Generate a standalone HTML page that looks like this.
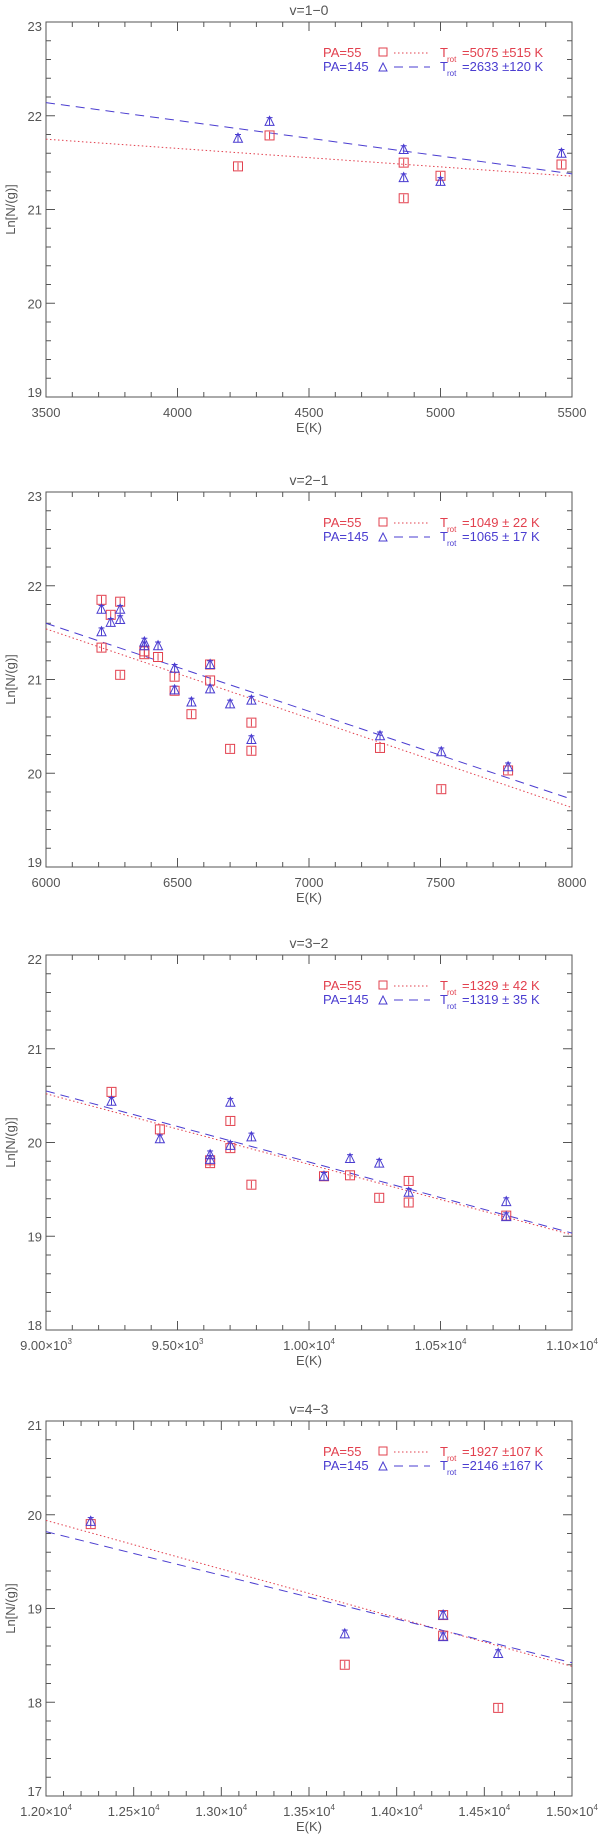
<!DOCTYPE html>
<html><head><meta charset="utf-8"><style>
html,body{margin:0;padding:0;background:#fff;}
svg{display:block;font-family:"Liberation Sans",sans-serif;}
</style></head><body>
<svg id="fig" width="600" height="1836" viewBox="0 0 600 1836" xmlns="http://www.w3.org/2000/svg"></svg>
<script>
// Panel 1: v=1-0
const p1RedX=[4230,4350,4860,4860,5000,5460];
const p1RedY=[21.46,21.79,21.50,21.12,21.36,21.48];
const p1BlueX=[4230,4350,4860,4860,5000,5460];
const p1BlueY=[21.76,21.94,21.64,21.34,21.30,21.60];
const p1Trot=[5075,2633];
const p1Start=[21.75,22.14];
const p1Legend=["=5075 ±515 K","=2633 ±120 K"];
const p1XTicks=["3500","4000","4500","5000","5500"];
// Panel 2: v=2-1
const p2RedX=[6211,6211,6246,6282,6282,6374,6374,6426,6489,6489,6553,6624,6624,6700,6781,6781,7270,7503,7757];
const p2RedY=[21.85,21.34,21.69,21.83,21.05,21.30,21.27,21.24,21.03,20.88,20.63,21.16,20.99,20.26,20.54,20.24,20.27,19.83,20.03];
const p2BlueX=[6211,6211,6246,6282,6282,6374,6374,6426,6489,6489,6553,6624,6624,6700,6781,6781,7270,7503,7757];
const p2BlueY=[21.75,21.51,21.61,21.75,21.64,21.40,21.36,21.36,21.12,20.89,20.76,21.16,20.90,20.74,20.78,20.36,20.40,20.23,20.07];
const p2Trot=[1049,1065];
const p2Start=[21.54,21.60];
const p2Legend=["=1049 ± 22  K","=1065 ± 17  K"];
const p2XTicks=["6000","6500","7000","7500","8000"];
// Panel 3: v=3-2
const p3RedX=[9249,9433,9624,9624,9701,9701,9781,10057,10156,10267,10379,10379,10750];
const p3RedY=[20.54,20.14,19.81,19.78,20.23,19.94,19.55,19.64,19.65,19.41,19.59,19.36,19.22];
const p3BlueX=[9249,9433,9624,9624,9701,9701,9781,10057,10156,10267,10379,10750,10750];
const p3BlueY=[20.44,20.04,19.87,19.82,20.43,19.97,20.06,19.64,19.83,19.78,19.47,19.37,19.21];
const p3Trot=[1329,1319];
const p3Start=[20.52,20.55];
const p3Legend=["=1329 ± 42  K","=1319 ± 35  K"];
const p3XTicks=["9.00×10|3","9.50×10|3","1.00×10|4","1.05×10|4","1.10×10|4"];
// Panel 4: v=4-3
const p4RedX=[12255,13704,14265,14265,14579];
const p4RedY=[19.90,18.40,18.93,18.71,17.94];
const p4BlueX=[12255,13704,14265,14265,14579];
const p4BlueY=[19.93,18.73,18.93,18.70,18.52];
const p4Trot=[1927,2146];
const p4Start=[19.94,19.82];
const p4Legend=["=1927 ±107 K","=2146 ±167 K"];
const p4XTicks=["1.20×10|4","1.25×10|4","1.30×10|4","1.35×10|4","1.40×10|4","1.45×10|4","1.50×10|4"];

const NS="http://www.w3.org/2000/svg";
const svg=document.getElementById('fig');
const RED="#e2404e", BLUE="#4a3cd0", AX="#555";
function mk(tag,attrs,parent){const e=document.createElementNS(NS,tag);for(const k in attrs)e.setAttribute(k,attrs[k]);(parent||svg).appendChild(e);return e;}

const panels=[
 {title:"v=1−0",top:22,x0:3500,x1:5500,y0:19,y1:23,rx:p1RedX,ry:p1RedY,bx:p1BlueX,by:p1BlueY,T:p1Trot,S:p1Start,L:p1Legend,XT:p1XTicks,xmaj:500,xmin:100},
 {title:"v=2−1",top:492,x0:6000,x1:8000,y0:19,y1:23,rx:p2RedX,ry:p2RedY,bx:p2BlueX,by:p2BlueY,T:p2Trot,S:p2Start,L:p2Legend,XT:p2XTicks,xmaj:500,xmin:100},
 {title:"v=3−2",top:955,x0:9000,x1:11000,y0:18,y1:22,rx:p3RedX,ry:p3RedY,bx:p3BlueX,by:p3BlueY,T:p3Trot,S:p3Start,L:p3Legend,XT:p3XTicks,xmaj:500,xmin:100},
 {title:"v=4−3",top:1421,x0:12000,x1:15000,y0:17,y1:21,rx:p4RedX,ry:p4RedY,bx:p4BlueX,by:p4BlueY,T:p4Trot,S:p4Start,L:p4Legend,XT:p4XTicks,xmaj:500,xmin:100}
];
const LEFT=46, RIGHT=572, H=375;

panels.forEach((p,pi)=>{
 const g=mk('g',{});
 
 
 const top=p.top, bot=top+H;
 const X=v=>LEFT+(v-p.x0)/(p.x1-p.x0)*(RIGHT-LEFT);
 const Y=v=>bot-(v-p.y0)/(p.y1-p.y0)*H;
 const t=mk('text',{x:(LEFT+RIGHT)/2,y:top-7,'text-anchor':'middle','font-size':14,fill:AX},g);
 t.textContent=p.title;
 
 
 const fr=mk('rect',{x:LEFT,y:top,width:RIGHT-LEFT,height:H,fill:'none',stroke:AX,'stroke-width':1},g);
 
 
 for(let v=p.x0;v<=p.x1+1e-6;v+=p.xmin){
  const maj=Math.abs((v-p.x0)%p.xmaj)<1e-6; const len=maj?9:5; const x=X(v);
  mk('line',{x1:x,y1:bot,x2:x,y2:bot-len,stroke:AX},g);
  mk('line',{x1:x,y1:top,x2:x,y2:top+len,stroke:AX},g);
 }
 p.XT.forEach((lab,i)=>{
  const v=p.x0+i*p.xmaj; const parts=lab.split('|');
  const tx=mk('text',{x:X(v),y:bot+20,'text-anchor':'middle','font-size':13,fill:AX},g);
  
  
  tx.appendChild(document.createTextNode(parts[0]));
  if(parts[1]){const s=mk('tspan',{dy:-6,'font-size':8},tx);s.textContent=parts[1];}
 });
 for(let k=0;k<=20;k++){
  const v=p.y0+k*0.2; const maj=k%5===0; const len=maj?9:5; const y=Y(v);
  mk('line',{x1:LEFT,y1:y,x2:LEFT+len,y2:y,stroke:AX},g);
  mk('line',{x1:RIGHT,y1:y,x2:RIGHT-len,y2:y,stroke:AX},g);
  if(maj){const ty=mk('text',{x:42,y:y+(k===0?0:k===20?9:5),'text-anchor':'end','font-size':13,fill:AX},g);
   ty.textContent=String(Math.round(v));
   
   }
 }
 const xl=mk('text',{x:(LEFT+RIGHT)/2,y:bot+35,'text-anchor':'middle','font-size':13,fill:AX},g);
 xl.textContent="E(K)";
 
 
 const yl=mk('text',{x:0,y:0,'text-anchor':'middle','font-size':13,fill:AX,transform:`translate(15,${top+H/2}) rotate(-90)`},g);
 yl.textContent="Ln[N/(g)]";
 
 
 [[RED,'1.5,2.5','red-fit-line'],[BLUE,'9,6','blue-fit-line']].forEach((c,i)=>{
  const ya=p.S[i], yb=ya-(p.x1-p.x0)/p.T[i];
  const l=mk('line',{x1:X(p.x0),y1:Y(ya),x2:X(p.x1),y2:Y(yb),stroke:c[0],'stroke-width':1,'stroke-dasharray':c[1]},g);
  
  
 });
 const err=0.04;
 p.rx.forEach((xv,i)=>{
  const x=X(xv), y=Y(p.ry[i]);
  mk('line',{x1:x,y1:Y(p.ry[i]+err),x2:x,y2:Y(p.ry[i]-err),stroke:RED},g);
  const r=mk('rect',{x:x-4.5,y:y-4.5,width:9,height:9,fill:'none',stroke:RED,'stroke-width':1},g);
  
  
 });
 p.bx.forEach((xv,i)=>{
  const x=X(xv), y=Y(p.by[i]);
  mk('line',{x1:x,y1:Y(p.by[i]+err),x2:x,y2:Y(p.by[i]-err),stroke:BLUE},g);
  mk('line',{x1:x-3,y1:Y(p.by[i]+err),x2:x+3,y2:Y(p.by[i]+err),stroke:BLUE},g);
  const tr=mk('polygon',{points:`${x-4.5},${y+4} ${x+4.5},${y+4} ${x},${y-5}`,fill:'none',stroke:BLUE,'stroke-width':1},g);
  
  
 });
 const lg=mk('g',{},g);
 
 
 [[RED,"PA=55",'sq','1.5,2.5'],[BLUE,"PA=145",'tri','9,6']].forEach((c,i)=>{
  const by=top+35+i*14;
  const a=mk('text',{x:323,y:by,'font-size':13,fill:c[0]},lg); a.textContent=c[1];
  if(c[2]==='sq') mk('rect',{x:379,y:by-9,width:8,height:8,fill:'none',stroke:c[0]},lg);
  else mk('polygon',{points:`379,${by} 387,${by} 383,${by-8}`,fill:'none',stroke:c[0]},lg);
  mk('line',{x1:394,y1:by-4,x2:430,y2:by-4,stroke:c[0],'stroke-dasharray':c[3]},lg);
  const T=mk('text',{x:440,y:by,'font-size':13,fill:c[0]},lg); T.textContent="T";
  const s=mk('text',{x:447,y:by+5,'font-size':8,fill:c[0]},lg); s.textContent="rot";
  const v=mk('text',{x:462,y:by,'font-size':13,fill:c[0]},lg); v.textContent=p.L[i];
 });
});
</script>
</body></html>
